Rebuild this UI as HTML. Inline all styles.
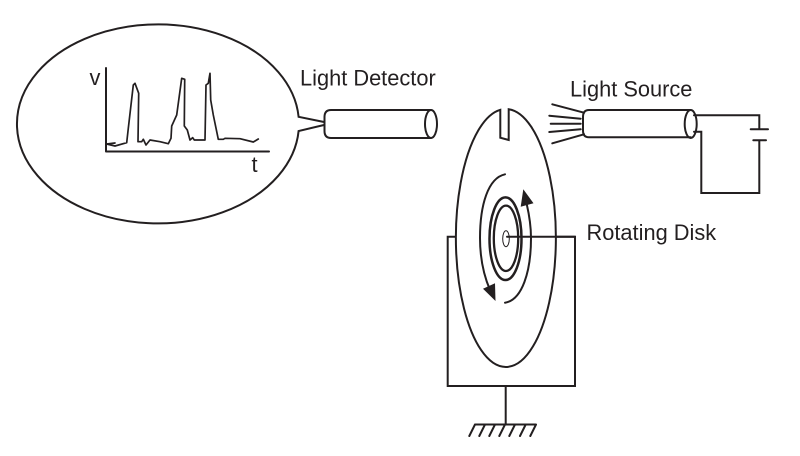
<!DOCTYPE html>
<html>
<head>
<meta charset="utf-8">
<style>
html,body{margin:0;padding:0;background:#fff;width:800px;height:456px;overflow:hidden}
svg{display:block}
text{font-family:"Liberation Sans",sans-serif;fill:#231f20}
</style>
</head>
<body>
<svg width="800" height="456" viewBox="0 0 800 456" xmlns="http://www.w3.org/2000/svg">
<rect width="800" height="456" fill="#fff"/>
<g fill="none" stroke="#231f20" stroke-width="2" stroke-linejoin="round" stroke-linecap="round">
<!-- callout -->
<path stroke-linejoin="miter" d="M324 122 L298.600 116.800 A141 99.500 0 1 0 298.600 131 L324 125"/>
<!-- graph -->
<path d="M106 68 V151.500 H269"/>
<path stroke-width="1.700" d="M106.700 144 L115 146 L126.700 142.700 L128.300 128.300 L133.300 85 L135 83.300 L138.700 93.300 L138 141.700 L141.700 141.700 L143.300 139.300 L146 145 L150 140 L160 141.700 L168.300 143.700 L171 138.300 L171.700 126 L176.700 115 L181.700 78.300 L184.700 79.300 L184.300 126 L187.300 130 L190 140 L192.700 137.700 L194.300 140 L205 140 L206 85 L208.300 83.300 L210 73.300 L210.700 100 L213.300 115 L218.300 139.300 L223.300 139.300 L225 138.300 L240 138.700 L253.300 142 L258.300 139"/>
<path stroke-width="1.700" d="M107 144 L115 143"/>
<!-- detector tube -->
<path d="M431 110 H331 Q324.500 110 324.500 117 V131 Q324.500 138 331 138 H431"/>
<ellipse cx="431" cy="124" rx="6" ry="14"/>
<!-- box -->
<path stroke-linejoin="miter" d="M457 236.700 H447.700 V386 H575 V236.700 H506"/>
<path d="M505.700 386 V424.500"/>
<path d="M475 424.500 H536 M475 424.500 L469.300 436 M485 424.500 L479.300 436 M495 424.500 L489.300 436 M505 424.500 L499.300 436 M515 424.500 L509.300 436 M525.700 424.500 L520 436 M536 424.500 L530.300 436"/>
<!-- disk -->
<path fill="#fff" stroke-linejoin="miter" d="M500.300 109.800 A50 129 0 1 0 508.700 109.200 V140 L500.300 137.700 Z"/>
<ellipse cx="505.500" cy="238.700" rx="16" ry="41.300" stroke-width="2.500"/>
<ellipse cx="506" cy="238.300" rx="12.200" ry="32.700" stroke-width="2.300"/>
<ellipse cx="506" cy="238.700" rx="3.300" ry="8" stroke-width="1"/>
<path d="M507 236.700 H575"/>
<path d="M505 174.300 C488 178 480 205 480 238 C480 258 484 276 490 290"/>
<path d="M505 302.700 C522 300 531 272 531 238 C531 226 529 214 526.700 204"/>
<path fill="#231f20" stroke="none" d="M483 288.700 L495 283.300 L495.500 301 Z"/>
<path fill="#231f20" stroke="none" d="M523.300 189.300 L533.500 203.300 L520.700 206.700 Z"/>
<!-- light source -->
<path d="M690.700 110 H589 Q583 110 583 117 V130.500 Q583 137.300 589 137.300 H690.700"/>
<ellipse cx="690.700" cy="124" rx="6" ry="14"/>
<path d="M552.300 104.300 L584 112.700 M549.300 115.700 L580.700 118.700 M550.700 123.700 L580.700 123.700 M549.300 132 L580.700 129.300 M552.300 143.300 L584 134.300"/>
<path stroke-linejoin="miter" d="M694 115.300 H759.300 V129.300 M750.700 129.300 H768 M753.300 140.300 H766 M759.300 140.300 V193 H701.300 V131.700 H694"/>
</g>
<text x="300" y="85.300" font-size="21.800">Light Detector</text>
<text x="570" y="96.700" font-size="21.800">Light Source</text>
<text x="586.500" y="240" font-size="21.800">Rotating Disk</text>
<text x="89.500" y="85" font-size="21.800">v</text>
<text x="251.500" y="172" font-size="21.800">t</text>
</svg>
</body>
</html>
